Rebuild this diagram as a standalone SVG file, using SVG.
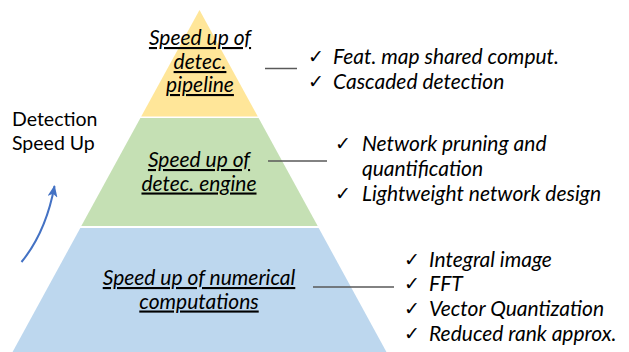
<svg xmlns="http://www.w3.org/2000/svg" width="629" height="352" viewBox="0 0 629 352">
<defs>
<style>
.lbl{font-family:Lato,"Open Sans","Liberation Sans",sans-serif;font-style:italic;font-size:21px;fill:#000;text-decoration:underline;text-anchor:middle}
.item{font-family:Lato,"Open Sans","Liberation Sans",sans-serif;font-style:italic;font-size:21px;fill:#000}
.chk{font-family:"DejaVu Sans",sans-serif;font-size:19px;fill:#000}
.side{font-family:Lato,"Open Sans","Liberation Sans",sans-serif;font-size:19.5px;fill:#000}
.conn{stroke:#595959;stroke-width:1.5;fill:none}
</style>
<marker id="ah" viewBox="0 0 12 10" refX="11" refY="5" markerWidth="12" markerHeight="10" markerUnits="userSpaceOnUse" orient="auto">
<path d="M0,0 L12,5 L0,10 L3,5 Z" fill="#4472C4"/>
</marker>
</defs>
<rect width="629" height="352" fill="#fff"/>
<g id="layer-pipeline">
<polygon points="199.5,10 257.8,116.5 141.2,116.5" fill="#FFE699"/>
<text class="lbl" x="200" y="45">Speed up of</text>
<text class="lbl" x="200" y="69">detec.</text>
<text class="lbl" x="200" y="92">pipeline</text>
</g>
<g id="layer-engine">
<polygon points="140.4,118 258.6,118 317.7,226 81.3,226" fill="#C5E0B4"/>
<text class="lbl" x="199" y="167">Speed up of</text>
<text class="lbl" x="199" y="190.5">detec. engine</text>
</g>
<g id="layer-numerical">
<polygon points="80.3,228 318.7,228 387,353 12,353" fill="#BDD7EE"/>
<text class="lbl" x="199" y="285">Speed up of numerical</text>
<text class="lbl" x="199" y="308.5">computations</text>
</g>
<g id="list-pipeline">
<text class="chk" x="308" y="63">✓</text>
<text class="item" x="333" y="64">Feat. map shared comput.</text>
<text class="chk" x="308" y="88">✓</text>
<text class="item" x="333" y="89">Cascaded detection</text>
</g>
<g id="list-engine">
<text class="chk" x="335" y="150">✓</text>
<text class="item" x="362" y="151">Network pruning and</text>
<text class="item" x="362" y="176">quantification</text>
<text class="chk" x="335" y="200">✓</text>
<text class="item" x="362" y="201">Lightweight network design</text>
</g>
<g id="list-numerical">
<text class="chk" x="404" y="266">✓</text>
<text class="item" x="429" y="267">Integral image</text>
<text class="chk" x="404" y="290">✓</text>
<text class="item" x="429" y="291">FFT</text>
<text class="chk" x="404" y="315">✓</text>
<text class="item" x="429" y="316">Vector Quantization</text>
<text class="chk" x="404" y="340">✓</text>
<text class="item" x="429" y="341">Reduced rank approx.</text>
</g>
<g id="side-label">
<text class="side" x="12" y="126">Detection</text>
<text class="side" x="12" y="150">Speed Up</text>
</g>
<g id="connectors">
<line class="conn" x1="265" y1="68.5" x2="297" y2="68.5"/>
<line class="conn" x1="268" y1="161" x2="327" y2="161"/>
<line class="conn" x1="313" y1="287" x2="394" y2="287"/>
<path d="M21.5,262 Q46,232 54.5,186" fill="none" stroke="#4472C4" stroke-width="2" marker-end="url(#ah)"/>
</g>
</svg>
